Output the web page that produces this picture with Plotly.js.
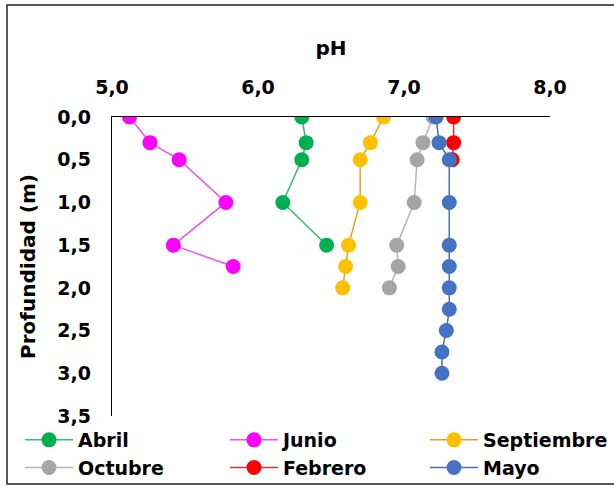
<!DOCTYPE html>
<html>
<head>
<meta charset="utf-8">
<script src="https://cdn.plot.ly/plotly-3.0.1.min.js"></script>
<style>
html,body{margin:0;padding:0;background:#fff;}
#chart{width:614px;height:487px;}
</style>
</head>
<body>
<div id="chart"></div>
<script>
// Data (pH by depth in m)
const seriesNames = ["Abril", "Junio", "Septiembre", "Octubre", "Febrero", "Mayo"];
const abrilDepth = [0, 0.3, 0.5, 1.0, 1.5];
const abrilPH = [6.30, 6.33, 6.30, 6.17, 6.47];
const junioDepth = [0, 0.3, 0.5, 1.0, 1.5, 1.75];
const junioPH = [5.12, 5.26, 5.46, 5.78, 5.42, 5.83];
const septiembreDepth = [0, 0.3, 0.5, 1.0, 1.5, 1.75, 2.0];
const septiembrePH = [6.86, 6.77, 6.70, 6.70, 6.62, 6.60, 6.58];
const octubreDepth = [0, 0.3, 0.5, 1.0, 1.5, 1.75, 2.0];
const octubrePH = [7.20, 7.13, 7.09, 7.07, 6.95, 6.96, 6.90];
const febreroDepth = [0, 0.3, 0.5];
const febreroPH = [7.34, 7.34, 7.33];
const mayoDepth = [0, 0.3, 0.5, 1.0, 1.5, 1.75, 2.0, 2.25, 2.5, 2.75, 3.0];
const mayoPH = [7.22, 7.24, 7.31, 7.31, 7.31, 7.31, 7.31, 7.31, 7.29, 7.26, 7.26];
const xTickVals = [5, 6, 7, 8];
const yTickVals = [0, 0.5, 1.0, 1.5, 2.0, 2.5, 3.0, 3.5];

const markerColors = ["#00B050", "#FF00FF", "#FFC000", "#A5A5A5", "#FF0000", "#4472C4"];
const lineColors = ["#3DBB6E", "#EE55EE", "#D6A82A", "#B5B5B5", "#D03A3A", "#4E6FA8"];
const xs = [abrilPH, junioPH, septiembrePH, octubrePH, febreroPH, mayoPH];
const ys = [abrilDepth, junioDepth, septiembreDepth, octubreDepth, febreroDepth, mayoDepth];
// legend column for each series (legend grid of 3 columns x 2 rows)
const legendIds = ["legend", "legend2", "legend3", "legend", "legend2", "legend3"];

const FONT = "DejaVu Sans, sans-serif";
const traces = seriesNames.map((n, i) => ({
  type: "scatter", mode: "lines+markers", name: n,
  x: xs[i], y: ys[i], legend: legendIds[i],
  line: {color: lineColors[i], width: 1.5},
  marker: {color: markerColors[i], size: 15}
}));

const W = 614, H = 487;
const m = {l: 112, r: 64, t: 117, b: 71};
const pw = W - m.l - m.r, ph = H - m.t - m.b;
// frame around the whole chart, in paper units
const fx0 = (7 - m.l) / pw, fx1 = (W + 5 - m.l) / pw;
const fy1 = (H - m.b - 5) / ph, fy0 = (H - m.b - 484) / ph;

function leg(px) {
  return {
    orientation: "v", xref: "paper", yref: "container",
    x: (px - m.l) / pw, y: 1 - 421 / H, xanchor: "left", yanchor: "top",
    font: {family: FONT, size: 19, weight: "bold", color: "#000"},
    itemwidth: 48, tracegroupgap: 0, bgcolor: "rgba(0,0,0,0)"
  };
}

const layout = {
  width: W, height: H,
  margin: m,
  paper_bgcolor: "#fff", plot_bgcolor: "#fff",
  separators: ",.",
  font: {family: FONT, size: 19, color: "#000", weight: "bold"},
  showlegend: true,
  xaxis: {
    side: "top", range: [5, 8], tickvals: xTickVals, tickformat: ".1f",
    showgrid: false, zeroline: false, showline: true, linecolor: "#000", linewidth: 1.2,
    ticks: "", ticklabelstandoff: 14,
    tickfont: {family: FONT, size: 19, weight: "bold", color: "#000"},
    title: {text: "pH", font: {family: FONT, size: 20, weight: "bold", color: "#000"}, standoff: 15}
  },
  yaxis: {
    range: [3.5, 0], tickvals: yTickVals, tickformat: ".1f",
    showgrid: false, zeroline: false, showline: true, linecolor: "#000", linewidth: 1.2,
    ticks: "", ticklabelstandoff: 16,
    tickfont: {family: FONT, size: 19, weight: "bold", color: "#000"},
    title: {text: "Profundidad (m)", font: {family: FONT, size: 20, weight: "bold", color: "#000"}, standoff: 16}
  },
  legend: leg(20),
  legend2: leg(225),
  legend3: leg(425),
  shapes: [{
    type: "rect", xref: "paper", yref: "paper",
    x0: fx0, x1: fx1, y0: fy0, y1: fy1,
    line: {color: "#222", width: 1.5}, layer: "below"
  }]
};

Plotly.newPlot("chart", traces, layout, {displayModeBar: false, staticPlot: true});
</script>
</body>
</html>
